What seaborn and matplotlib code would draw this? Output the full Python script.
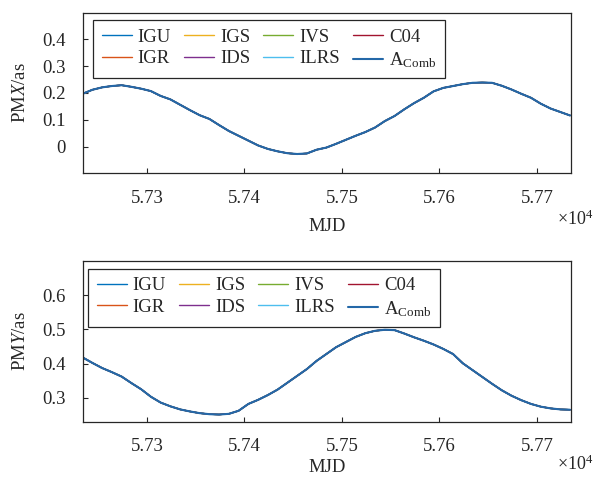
import matplotlib
matplotlib.use("Agg")
import matplotlib.pyplot as plt
import seaborn as sns

sns.set_style("ticks")
plt.rcParams['font.family'] = ['Liberation Serif', 'DejaVu Serif']
plt.rcParams['mathtext.fontset'] = 'custom'
plt.rcParams['mathtext.rm'] = 'Liberation Serif'
plt.rcParams['mathtext.it'] = 'Liberation Serif:italic'

''' DATA READ FROM THE FIGURE (MJD, polar motion in arcsec)
'''
mjd = [57234, 57244, 57254, 57264, 57274, 57284, 57294, 57304, 57314, 57324,
       57334, 57344, 57354, 57364, 57374, 57384, 57394, 57404, 57414, 57424,
       57434, 57444, 57454, 57464, 57474, 57484, 57494, 57504, 57514, 57524,
       57534, 57544, 57554, 57564, 57574, 57584, 57594, 57604, 57614, 57624,
       57634, 57644, 57654, 57664, 57674, 57684, 57694, 57704, 57714, 57724,
       57734]

pmx = [0.197, 0.212, 0.221, 0.226, 0.229, 0.223, 0.216, 0.207, 0.189, 0.176,
       0.156, 0.136, 0.117, 0.103, 0.080, 0.058, 0.040, 0.022, 0.004, -0.009,
       -0.018, -0.025, -0.028, -0.026, -0.012, -0.004, 0.010, 0.025, 0.040, 0.054,
       0.071, 0.095, 0.114, 0.139, 0.162, 0.182, 0.206, 0.219, 0.226, 0.233,
       0.238, 0.239, 0.238, 0.227, 0.213, 0.197, 0.182, 0.160, 0.142, 0.129,
       0.116]

pmy = [0.418, 0.402, 0.387, 0.375, 0.362, 0.343, 0.325, 0.303, 0.286, 0.275,
       0.266, 0.260, 0.255, 0.252, 0.251, 0.253, 0.262, 0.282, 0.294, 0.308,
       0.324, 0.344, 0.364, 0.384, 0.408, 0.428, 0.448, 0.463, 0.478, 0.489,
       0.496, 0.499, 0.498, 0.488, 0.477, 0.467, 0.456, 0.443, 0.428, 0.401,
       0.381, 0.361, 0.341, 0.322, 0.306, 0.293, 0.282, 0.274, 0.269, 0.266,
       0.265]

# all solutions overlap at this scale, so each one is drawn with the same values
series = ['IGU', 'IGR', 'IGS', 'IDS', 'IVS', 'ILRS', 'C04', 'A$_{\\mathrm{Comb}}$']
colors = ['#0072BD', '#D95319', '#EDB120', '#7E2F8E', '#77AC30', '#4DBEEE', '#A2142F', '#2468A8']
widths = [1.0, 1.0, 1.0, 1.0, 1.0, 1.0, 1.0, 1.5]

xticks = [57300, 57400, 57500, 57600, 57700]
xticklabels = ['5.73', '5.74', '5.75', '5.76', '5.77']

FS = 13.5


def panel(ax, vals, ylabel, ylim, yticks, yticklabels, leg_anchor, xlab_y, off_y):
    for name, c, lw in zip(series, colors, widths):
        sns.lineplot(x=mjd, y=vals, ax=ax, color=c, lw=lw, label=name)
    ax.set_xlim(57234, 57735)
    ax.set_ylim(*ylim)
    ax.set_xticks(xticks)
    ax.set_xticklabels(xticklabels)
    ax.set_yticks(yticks)
    ax.set_yticklabels(yticklabels)
    ax.tick_params(direction='in', length=3.8, width=0.8, pad=12, labelsize=FS,
                   colors='#262626', top=False, right=False)
    for s in ax.spines.values():
        s.set_visible(True)
        s.set_color('#262626')
        s.set_linewidth(0.9)
    ax.set_ylabel(ylabel, size=FS)
    ax.yaxis.set_label_coords(-0.109, 0.5)
    ax.set_xlabel('MJD', size=FS)
    ax.xaxis.set_label_coords(0.5, xlab_y)
    ax.text(0.971, off_y, '$\\times\\mathrm{10}^{\\mathrm{4}}$', transform=ax.transAxes,
            ha='left', va='top', size=13, color='#262626')
    leg = ax.legend(ncol=4, loc='upper left', bbox_to_anchor=leg_anchor, borderaxespad=0,
                    fontsize=FS, handlelength=1.6, handletextpad=0.32, columnspacing=0.7,
                    labelspacing=0.25, borderpad=0.44, fancybox=False, framealpha=1,
                    edgecolor='#262626')
    leg.get_frame().set_linewidth(0.9)


fig = plt.figure(figsize=(6.03, 4.82), dpi=100)
ax1 = fig.add_axes([0.1371, 0.6405, 0.8098, 0.3332])
ax2 = fig.add_axes([0.1371, 0.1251, 0.8098, 0.3332])

panel(ax1, pmx, 'PM$\\mathit{X}$/as', (-0.1, 0.5), [0, 0.1, 0.2, 0.3, 0.4],
      ['0', '0.1', '0.2', '0.3', '0.4'], (0.0217, 0.953), -0.28, -0.228)
panel(ax2, pmy, 'PM$\\mathit{Y}$/as', (0.23, 0.70), [0.3, 0.4, 0.5, 0.6],
      ['0.3', '0.4', '0.5', '0.6'], (0.0115, 0.952), -0.235, -0.206)

plt.savefig('out.png', dpi=100)
plt.close()
